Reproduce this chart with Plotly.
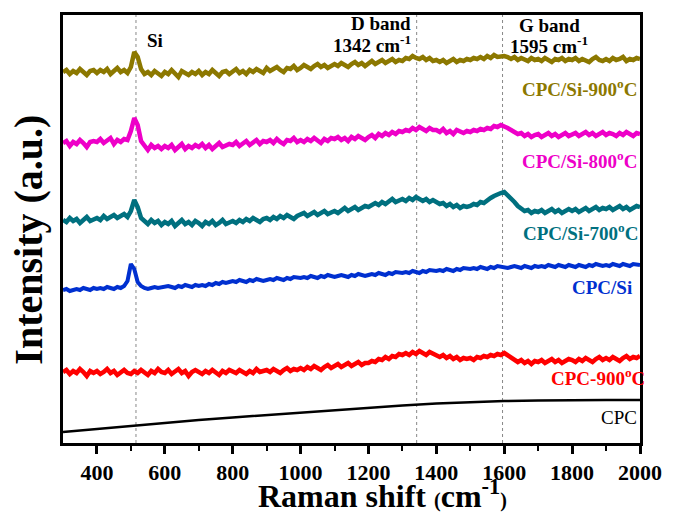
import plotly.graph_objects as go

# Raman shift grid (cm^-1) for the measured spectra
raman_shift = list(range(300, 2001, 10))

cpc_si_900 = [
    371, 373, 369, 372, 370, 374, 371, 368, 372, 373,
    370, 373, 371, 374, 369, 372, 375, 371, 373, 370,
    376, 391, 386, 374, 369, 371, 368, 372, 370, 367,
    371, 369, 373, 370, 366, 372, 370, 368, 371, 369,
    372, 368, 371, 369, 373, 370, 367, 371, 372, 369,
    371, 374, 370, 372, 369, 373, 371, 374, 372, 370,
    375, 372, 374, 376, 373, 371, 375, 374, 377, 373,
    375, 378, 376, 374, 377, 379, 376, 378, 375, 377,
    379, 377, 380, 378, 376, 379, 381, 378, 380, 377,
    380, 382, 379, 381, 383, 380, 382, 384, 381, 383,
    382, 385, 384, 387, 385, 384, 386, 383, 385, 382,
    383, 381, 383, 380, 382, 384, 381, 383, 382, 384,
    383, 385, 384, 386, 384, 387, 385, 388, 386, 387,
    387, 386, 384, 386, 383, 385, 384, 382, 385, 383,
    384, 382, 385, 383, 381, 384, 383, 385, 382, 384,
    383, 385, 382, 384, 383, 381, 384, 386, 383, 382,
    384, 382, 385, 383, 384, 386, 382, 384, 383, 385,
    384,
]

cpc_si_800 = [
    300, 302, 297, 301, 299, 303, 300, 296, 301, 302,
    301, 304, 300, 302, 305, 299, 303, 301, 304, 303,
    312, 325, 318, 302, 297, 293, 298, 295, 297, 294,
    297, 295, 298, 293, 296, 299, 294, 297, 295, 298,
    296, 299, 295, 298, 294, 297, 300, 296, 298, 299,
    298, 301, 297, 300, 302, 298, 301, 303, 299, 302,
    301, 303, 300, 304, 301, 299, 303, 302, 305, 301,
    303, 301, 304, 302, 305, 303, 300, 304, 302, 305,
    304, 306, 303, 305, 302, 306, 304, 307, 305, 303,
    306, 308, 305, 309, 307, 310, 308, 311, 309, 312,
    311, 313, 312, 315, 313, 316, 314, 312, 315, 313,
    313, 311, 314, 310, 312, 309, 313, 311, 310, 312,
    311, 313, 312, 314, 313, 315, 314, 317, 316, 318,
    317, 315, 313, 311, 309, 310, 307, 309, 306, 308,
    309, 306, 308, 310, 307, 309, 306, 308, 310, 307,
    308, 310, 307, 309, 311, 308, 310, 307, 309, 311,
    308, 310, 309, 307, 310, 308, 311, 309, 307, 310,
    309,
]

cpc_si_700 = [
    223, 221, 225, 222, 224, 220, 223, 226, 222, 224,
    225, 223, 227, 224, 226, 228, 225, 227, 229, 226,
    232, 243, 236, 225, 222, 219, 223, 220, 222, 218,
    221, 219, 222, 217, 220, 223, 219, 221, 218, 222,
    220, 217, 221, 219, 222, 218, 220, 223, 219, 221,
    222, 220, 223, 221, 224, 222, 225, 223, 221, 224,
    225, 223, 226, 224, 227, 225, 228, 226, 224, 227,
    228, 230, 227, 229, 231, 228, 230, 232, 229, 231,
    232, 230, 233, 235, 232, 234, 236, 233, 235, 237,
    236, 238, 240, 238, 241, 239, 242, 244, 241, 243,
    244, 242, 245, 243, 246, 244, 242, 244, 241, 243,
    241, 239, 240, 237, 239, 236, 238, 235, 237, 236,
    237, 239, 238, 241, 240, 243, 245, 247, 249, 250,
    251, 248, 245, 241, 237, 234, 232, 233, 230, 232,
    231, 233, 230, 232, 234, 231, 233, 230, 232, 234,
    232, 234, 231, 233, 235, 232, 234, 236, 233, 235,
    234, 236, 233, 235, 237, 234, 236, 233, 235, 237,
    236,
]

cpc_si = [
    153, 154, 152, 153, 154, 153, 155, 154, 153, 155,
    154, 155, 154, 156, 155, 154, 156, 155, 157, 162,
    179, 174, 161, 157, 155, 154, 155, 156, 155, 156,
    156, 157, 156, 155, 157, 156, 158, 157, 156, 158,
    157, 158, 157, 159, 158, 160, 159, 161, 160, 161,
    162, 161, 163, 162, 161, 163, 162, 164, 163, 162,
    163, 164, 163, 165, 164, 163, 165, 164, 166, 165,
    165, 166, 165, 167, 166, 165, 167, 166, 168, 167,
    166, 167, 168, 167, 166, 168, 167, 169, 168, 167,
    168, 169, 168, 170, 169, 168, 170, 169, 171, 170,
    170, 171, 170, 172, 171, 170, 172, 171, 173, 172,
    172, 173, 172, 174, 173, 172, 174, 173, 175, 174,
    174, 175, 174, 176, 175, 174, 176, 175, 177, 176,
    176, 175, 176, 177, 176, 175, 177, 176, 175, 177,
    176, 177, 176, 178, 177, 176, 178, 177, 176, 178,
    177, 176, 178, 177, 176, 178, 177, 179, 178, 177,
    178, 177, 179, 178, 177, 179, 178, 177, 179, 178,
    178,
]

cpc_900 = [
    71, 73, 69, 72, 70, 74, 71, 67, 72, 70,
    72, 69, 71, 74, 70, 72, 68, 71, 73, 70,
    69, 72, 70, 73, 71, 68, 72, 70, 74, 71,
    70, 73, 69, 71, 74, 70, 72, 67, 71, 73,
    71, 69, 72, 70, 73, 71, 68, 72, 70, 73,
    71, 70, 73, 71, 69, 72, 70, 74, 71, 72,
    73, 71, 74, 72, 70, 73, 75, 72, 74, 73,
    75, 73, 76, 74, 77, 75, 73, 76, 78, 75,
    77, 79, 76, 78, 80, 77, 79, 81, 78, 80,
    80, 82, 81, 84, 83, 86, 84, 87, 86, 89,
    88, 90, 88, 91, 89, 92, 90, 88, 91, 89,
    88, 86, 88, 85, 87, 84, 86, 83, 85, 84,
    85, 83, 86, 85, 87, 86, 88, 87, 89, 88,
    90, 88, 86, 84, 81, 83, 80, 82, 79, 82,
    81, 83, 80, 82, 84, 81, 83, 80, 82, 84,
    83, 81, 84, 82, 85, 83, 81, 84, 86, 83,
    85, 83, 86, 84, 82, 85, 87, 84, 86, 85,
    87,
]

# CPC (smooth curve)
cpc_shift = [300, 400, 500, 600, 700, 800, 900, 1000, 1100, 1200,
             1300, 1400, 1500, 1600, 1700, 1800, 1900, 2000]
cpc = [11, 14, 17.5, 20, 23, 25.5, 28, 30.5, 33, 35,
       37.5, 39.5, 41, 42, 42.5, 43, 43, 43]

band_positions = [515, 1342, 1595]
x_tick_labels = [400, 600, 800, 1000, 1200, 1400, 1600, 1800, 2000]

series = [
    ("CPC", cpc_shift, cpc, "#000000", 2.5),
    ("CPC-900°C", raman_shift, cpc_900, "#FF0000", 4.5),
    ("CPC/Si", raman_shift, cpc_si, "#0030D0", 4),
    ("CPC/Si-700°C", raman_shift, cpc_si_700, "#00707F", 4.5),
    ("CPC/Si-800°C", raman_shift, cpc_si_800, "#EE00C8", 4.5),
    ("CPC/Si-900°C", raman_shift, cpc_si_900, "#8C7800", 4.5),
]

FONT = "Liberation Serif"

fig = go.Figure()
for name, xs, ys, color, w in series:
    fig.add_trace(go.Scatter(x=xs, y=ys, mode="lines", name=name,
                             line=dict(color=color, width=w),
                             showlegend=False, hoverinfo="skip"))

for bp in band_positions:
    fig.add_shape(type="line", xref="x", yref="paper", x0=bp, x1=bp, y0=0, y1=1,
                  line=dict(color="#888888", width=1, dash="dot"), layer="below")

labels = [
    ("CPC/Si-900<sup>o</sup>C", 1973, 355, "#8C7800", "bold"),
    ("CPC/Si-800<sup>o</sup>C", 1973, 283, "#EE00C8", "bold"),
    ("CPC/Si-700<sup>o</sup>C", 1976, 211, "#00707F", "bold"),
    ("CPC/Si", 1959, 156, "#0030D0", "bold"),
    ("CPC-900<sup>o</sup>C", 1997, 66, "#FF0000", "bold"),
    ("CPC", 1973, 26, "#000000", "normal"),
]
for text, x, y, color, weight in labels:
    fig.add_annotation(x=x, y=y, xref="x", yref="y", text=text, showarrow=False,
                       xanchor="right", yanchor="middle", xshift=8,
                       font=dict(family=FONT, size=19, color=color, weight=weight))

band_labels = [
    ("Si", 568, 403, "center", 1),
    ("D band", 1323, 420, "right", 3),
    ("1342 cm<sup>-1</sup>", 1323, 399, "right", 3),
    ("G band", 1620, 418, "left", 6),
    ("1595 cm<sup>-1</sup>", 1603, 398, "left", 3),
]
for text, x, y, anchor, dx in band_labels:
    fig.add_annotation(x=x, y=y, xref="x", yref="y", text=text, showarrow=False,
                       xanchor=anchor, yanchor="middle", xshift=dx,
                       font=dict(family=FONT, size=19, color="black", weight="bold"))

fig.add_annotation(x=0.553, y=-0.1706, xref="paper", yref="paper",
                   text="Raman shift <span style='font-size:20px'>(</span>cm<sup>-1</sup><span style='font-size:20px'>)</span>",
                   showarrow=False, xanchor="center", yanchor="bottom",
                   font=dict(family=FONT, size=32, color="black", weight="bold"))
fig.add_annotation(x=-0.06, y=0.476, xref="paper", yref="paper",
                   text="Intensity (a.u.)", textangle=-90,
                   showarrow=False, xanchor="center", yanchor="middle",
                   font=dict(family=FONT, size=40, color="black", weight="bold"))

fig.update_layout(
    width=674, height=513,
    margin=dict(l=63, r=28, t=15, b=70, pad=0),
    plot_bgcolor="white", paper_bgcolor="white",
    xaxis=dict(range=[300, 2000], tickmode="array", tickvals=x_tick_labels,
               ticktext=[str(v) for v in x_tick_labels],
               ticks="outside", ticklen=8, tickwidth=2.5, tickcolor="black",
               showline=True, linewidth=2.5, linecolor="black", mirror=True,
               showgrid=False, zeroline=False,
               minor=dict(tickvals=[500, 700, 900, 1100, 1300, 1500, 1700, 1900],
                          ticks="outside", ticklen=5, tickwidth=2, tickcolor="black"),
               tickfont=dict(family=FONT, size=22, color="black", weight="bold")),
    yaxis=dict(range=[0, 428], showticklabels=False, ticks="",
               showline=True, linewidth=2.5, linecolor="black", mirror=True,
               showgrid=False, zeroline=False),
)

fig.write_html("out.html")
